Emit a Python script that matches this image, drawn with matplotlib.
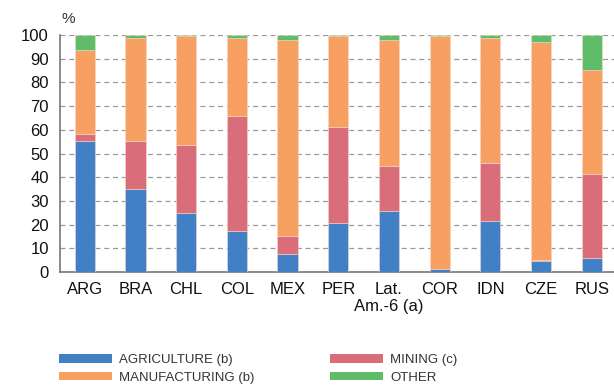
import matplotlib
matplotlib.use("Agg")
import matplotlib.pyplot as plt
import numpy as np
from matplotlib.patches import Patch

plt.rcParams['font.family'] = ['Liberation Sans', 'DejaVu Sans']

categories = ["ARG", "BRA", "CHL", "COL", "MEX", "PER", "Lat.\nAm.-6 (a)", "COR", "IDN", "CZE", "RUS"]
agriculture = [55.1, 34.9, 25.0, 17.4, 7.7, 20.8, 25.9, 1.4, 21.4, 4.5, 5.8]
mining = [3.0, 20.5, 28.4, 48.6, 7.3, 40.2, 18.8, 0.0, 24.7, 0.4, 35.7]
manufacturing = [35.4, 43.2, 46.0, 32.7, 82.7, 38.4, 53.3, 98.0, 52.6, 92.3, 43.6]
other = [6.5, 1.4, 0.6, 1.3, 2.3, 0.6, 2.0, 0.6, 1.3, 2.8, 14.9]

labels = ["AGRICULTURE (b)", "MINING (c)", "MANUFACTURING (b)", "OTHER"]
colors = ["#4180C4", "#D96D7A", "#F7A062", "#5FBC68"]

fig = plt.figure(figsize=(6.14, 3.87), dpi=100)
ax = fig.add_axes([60/614, 1-272/387, 554/614, 237/387])

x = np.arange(len(categories))
series = [agriculture, mining, manufacturing, other]
bottom = np.zeros(len(categories))
for vals, c in zip(series, colors):
    vals = np.array(vals)
    ax.bar(x, vals, width=0.4, bottom=bottom, color=c, edgecolor="#f3d6cc", linewidth=0.4, zorder=3)
    bottom += vals

ax.set_xlim(-0.49, 10.44)
ax.set_ylim(0, 100)
ax.set_yticks(np.arange(0, 101, 10))
ax.set_xticks(x)
ax.set_xticklabels(categories, fontsize=12, linespacing=1.15)
ax.tick_params(axis='both', length=0, labelsize=12, colors='#111111')
ax.tick_params(axis='y', pad=8)
ax.tick_params(axis='x', pad=7)
ax.grid(axis='y', linestyle=(0, (4, 3)), color='#999999', linewidth=0.9, zorder=0)
for s in ['top', 'right']:
    ax.spines[s].set_visible(False)
for s in ['left', 'bottom']:
    ax.spines[s].set_color('#777777')
    ax.spines[s].set_linewidth(1.2)

fig.text(62/614, 1-19/387, "%", fontsize=11, color='#333333', va='center', ha='left')

h = [Patch(facecolor=c, edgecolor='none') for c in colors]
kw = dict(frameon=False, prop={'size': 9.5}, handlelength=4.0, handleheight=0.6,
          handletextpad=0.55, labelspacing=0.45, borderpad=0, borderaxespad=0, loc='upper left')
leg1 = fig.legend([h[0], h[2]], [labels[0], labels[2]], bbox_to_anchor=(59/614, 1-354/387), **kw)
leg2 = fig.legend([h[1], h[3]], [labels[1], labels[3]], bbox_to_anchor=(330/614, 1-354/387), **kw)
for leg in (leg1, leg2):
    for t in leg.get_texts():
        t.set_color('#333333')

fig.savefig("out.png", dpi=100)
